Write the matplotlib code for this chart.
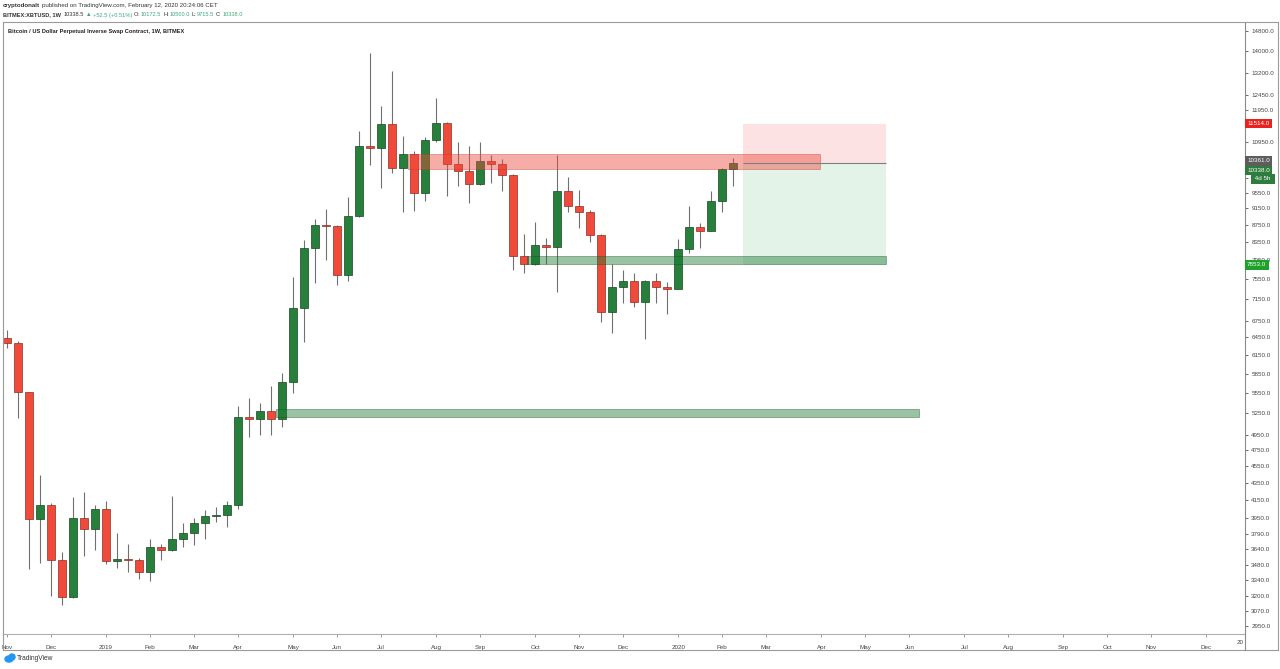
import numpy as np
import pandas as pd
import matplotlib
matplotlib.use("Agg")
import matplotlib.pyplot as plt
import matplotlib.dates as mdates
from matplotlib.patches import Rectangle, Ellipse
from matplotlib.lines import Line2D

plt.rcParams['font.family'] = ['Liberation Sans', 'DejaVu Sans']

# %%
# weekly XBTUSD candles (BitMEX), first week starts Mon 5 Nov 2018
opens = [6440, 6350, 5560, 3940, 4100, 3530, 3190, 3950, 3840, 4050,
         3520, 3540, 3530, 3415, 3655, 3625, 3735, 3800, 3900, 3975,
         3990, 4095, 5195, 5170, 5285, 5170, 5715, 6990, 8220, 8745,
         8720, 7640, 8965, 10835, 10770, 11500, 10215, 10605, 9540, 11015,
         11530, 10315, 10125, 9775, 10405, 10315, 10020, 8040, 7870, 8285,
         8240, 9585, 9210, 9060, 8515, 6910, 7395, 7520, 7100, 7520,
         7395, 7360, 8200, 8700, 8610, 9340, 10172.5]
highs = [6580, 6390, 5560, 4440, 4120, 3610, 4190, 4240, 4100, 4145,
         3800, 3685, 3545, 3735, 3690, 4200, 3900, 3950, 4040, 4070,
         4145, 5360, 5475, 5400, 5650, 5860, 7600, 8400, 8890, 9135,
         8760, 9440, 11290, 13940, 12080, 13280, 11135, 10700, 11100, 12345,
         11560, 10955, 10840, 10955, 10575, 10470, 10050, 8540, 8820, 8450,
         10575, 9965, 9620, 9100, 8530, 7870, 7750, 7690, 7540, 7690,
         7500, 8425, 9210, 8800, 9585, 10200, 10500.0]
lows = [6270, 5190, 3440, 3500, 3200, 3120, 3180, 3570, 3630, 3490,
        3450, 3415, 3350, 3335, 3530, 3615, 3655, 3675, 3740, 3915,
        3860, 4050, 4925, 4950, 4950, 5060, 5550, 6370, 7475, 7955,
        7430, 7520, 8930, 10290, 9670, 10080, 9065, 9090, 9340, 10950,
        9465, 9725, 9280, 9760, 9815, 9585, 7745, 7690, 7860, 7880,
        7295, 9050, 8675, 8355, 6725, 6530, 7080, 7000, 6425, 7080,
        6875, 7350, 8110, 8220, 8600, 9065, 9715.5]
closes = [6350, 5560, 3940, 4100, 3530, 3190, 3950, 3840, 4050, 3520,
          3540, 3530, 3415, 3655, 3625, 3735, 3800, 3900, 3975, 3990,
          4095, 5195, 5170, 5285, 5170, 5715, 6990, 8220, 8745, 8720,
          7640, 8965, 10835, 10770, 11500, 10215, 10605, 9540, 11015, 11530,
          10315, 10125, 9775, 10405, 10315, 10020, 8040, 7870, 8285, 8240,
          9585, 9210, 9060, 8515, 6910, 7395, 7520, 7100, 7520, 7395,
          7360, 8200, 8700, 8610, 9340, 10175, 10338.0]
weeks = pd.date_range("2018-11-05", periods=len(opens), freq="7D")

# drawn zones: (low price, high price, start date, end date)
res_zone = (10180, 10605, "2019-07-18", "2020-04-05")
sup_zone = (7870, 8045, "2019-10-02", "2020-05-17")
low_zone = (5195, 5315, "2019-04-25", "2020-06-07")
# short position tool
entry, stop, target = 10361, 11514, 7853
tool_start, tool_end = "2020-02-16", "2020-05-17"

ytick_vals = [14800, 14000, 13200, 12450, 11950, 10950, 9950, 9550,
              9150, 8750, 8350, 7950, 7550, 7150, 6750, 6450, 6150, 5850, 5550,
              5250, 4950, 4750, 4550, 4350, 4150, 3950, 3790, 3640, 3480, 3340,
              3200, 3070, 2950]
month_dates = ["2018-11-05", "2018-12-03", "2019-01-07", "2019-02-04", "2019-03-04",
               "2019-04-01", "2019-05-06", "2019-06-03", "2019-07-01", "2019-08-05",
               "2019-09-02", "2019-10-07", "2019-11-04", "2019-12-02", "2020-01-06",
               "2020-02-03", "2020-03-02", "2020-04-06", "2020-05-04", "2020-06-01",
               "2020-07-06", "2020-08-03", "2020-09-07", "2020-10-05", "2020-11-02",
               "2020-12-07"]
month_labels = ["Nov", "Dec", "2019", "Feb", "Mar", "Apr", "May", "Jun", "Jul", "Aug",
                "Sep", "Oct", "Nov", "Dec", "2020", "Feb", "Mar", "Apr", "May", "Jun",
                "Jul", "Aug", "Sep", "Oct", "Nov", "Dec"]

# %%
W, H = 1280, 669
def fx(px):
    return px / W
def fy(py):
    return 1 - py / H

fig = plt.figure(figsize=(12.8, 6.69), dpi=100)
fig.patch.set_facecolor("white")
ax = fig.add_axes([fx(3), fy(634), fx(1245) - fx(3), fy(22) - fy(634)])

def dn(s):
    return mdates.date2num(pd.Timestamp(s))

xs = mdates.date2num(weeks)
green, green_e = "#26803b", "#16461f"
red, red_e = "#f04b3a", "#8a2d24"
wick = "#707070"

for x, o, h, l, c in zip(xs, opens, highs, lows, closes):
    up = c >= o
    ax.vlines(x, l, h, color=wick, lw=0.8, zorder=2)
    ax.bar(x, abs(c - o) if abs(c - o) > 5 else 5, bottom=min(o, c), width=4.8,
           color=green if up else red, edgecolor=green_e if up else red_e,
           lw=0.5, zorder=3)

def zone(z, fc, ec):
    lo, hi, s, e = z
    ax.add_patch(Rectangle((dn(s), lo), dn(e) - dn(s), hi - lo, facecolor=fc,
                           edgecolor=ec, lw=0.6, alpha=0.45, zorder=4))

zone(res_zone, "#ee4a3c", "#c0392b")
zone(sup_zone, "#1e7b34", "#14501f")
zone(low_zone, "#1e7b34", "#14501f")

t0, t1 = dn(tool_start), dn(tool_end)
ax.add_patch(Rectangle((t0, entry), t1 - t0, stop - entry, facecolor="#f23645",
                       alpha=0.14, lw=0, zorder=1))
ax.add_patch(Rectangle((t0, target), t1 - t0, entry - target, facecolor="#2ea44f",
                       alpha=0.13, lw=0, zorder=1))
ax.hlines(entry, t0, t1, color="#7f7f7f", lw=0.8, zorder=5)

ax.set_yscale("log")
ax.set_ylim(2888, 15165)
ax.set_xlim(dn("2018-11-02 12:00"), dn("2020-12-31 12:00"))

ax.yaxis.tick_right()
ax.set_yticks(ytick_vals)
ax.set_yticklabels(["%.1f" % v for v in ytick_vals])
ax.yaxis.set_minor_locator(matplotlib.ticker.NullLocator())
ax.tick_params(axis="y", which="major", labelsize=4.5, colors="#555555",
               length=2.5, width=0.6, pad=2, labelcolor="#444444")
ax.set_xticks([dn(d) for d in month_dates])
ax.set_xticklabels(month_labels)
ax.tick_params(axis="x", labelsize=4.5, colors="#888888", length=2, width=0.6,
               pad=6, labelcolor="#444444")

for s in ["top", "left"]:
    ax.spines[s].set_visible(False)
ax.spines["right"].set_color("#8a8a8a")
ax.spines["bottom"].set_color("#b0b0b0")
ax.spines["right"].set_linewidth(0.8)
ax.spines["bottom"].set_linewidth(0.8)

# price labels on the right axis
def price_box(val, fc, dy=0.0, txt=None, dx=1.5):
    ax.annotate(txt if txt else "%.1f" % val, xy=(1, val),
                xycoords=("axes fraction", "data"), xytext=(dx, dy),
                textcoords="offset points", ha="left", va="center",
                fontsize=4.5, color="white", zorder=10, annotation_clip=False,
                bbox=dict(boxstyle="square,pad=0.35", fc=fc, ec="none"))

price_box(stop, "#e8231f")
price_box(entry, "#5d5d5d", dy=1.2)
price_box(10338.0, "#2e7d3e", dy=-5.2)
price_box(10338.0, "#2e7d3e", dy=-11.2, txt=" 4d 5h ", dx=6.0)
price_box(target, "#1ea12b")

# chart frame
def fline(x0, y0, x1, y1, c="#9a9a9a", lw=0.8):
    fig.add_artist(Line2D([fx(x0), fx(x1)], [fy(y0), fy(y1)], color=c, lw=lw))

fline(3, 22, 1278, 22)
fline(3, 22, 3, 650)
fline(3, 650, 1278, 650)
fline(1278, 22, 1278, 650)
fline(1245, 634, 1245, 650, c="#8a8a8a")
fig.text(fx(1244), fy(643), "20", fontsize=4.5, color="#444444", ha="right", va="center")

# header, pieces laid out one after another
renderer = fig.canvas.get_renderer()
def chain(x0, y, segs, size):
    x = fx(x0)
    for s, c, w, gap in segs:
        t = fig.text(x, fy(y), s, fontsize=size, color=c, weight=w, va="center")
        x += t.get_window_extent(renderer).width / W + fx(gap)

dk = "#333333"
tc = "#3da77a"
chain(3, 5, [("cryptodonalt", dk, "bold", 2),
             ("published on TradingView.com, February 12, 2020 20:24:06 CET", dk, "normal", 0)],
      4.4)
chain(3, 15, [("BITMEX:XBTUSD, 1W", dk, "bold", 3), ("10338.5", dk, "normal", 1.5),
              ("\u25b2", tc, "normal", 1.5), ("+52.5 (+0.51%)", tc, "normal", 2),
              ("O:", dk, "normal", 0.5), ("10172.5", tc, "normal", 2),
              ("H:", dk, "normal", 0.5), ("10500.0", tc, "normal", 2),
              ("L:", dk, "normal", 0.5), ("9715.5", tc, "normal", 2),
              ("C:", dk, "normal", 0.5), ("10338.0", tc, "normal", 0)],
      4.1)
fig.text(fx(8), fy(31), "Bitcoin / US Dollar Perpetual Inverse Swap Contract, 1W, BITMEX",
         fontsize=4.1, weight="bold", color="#222222", va="center")

# logo
fig.add_artist(Ellipse((fx(9), fy(659)), fx(8), 6 / H, color="#2196f3"))
fig.add_artist(Ellipse((fx(12), fy(657)), fx(6), 6 / H, color="#2196f3"))
fig.text(fx(17), fy(659), "TradingView", fontsize=4.8, color="#333333", va="center")

fig.savefig("out.png", dpi=100, facecolor="white")
